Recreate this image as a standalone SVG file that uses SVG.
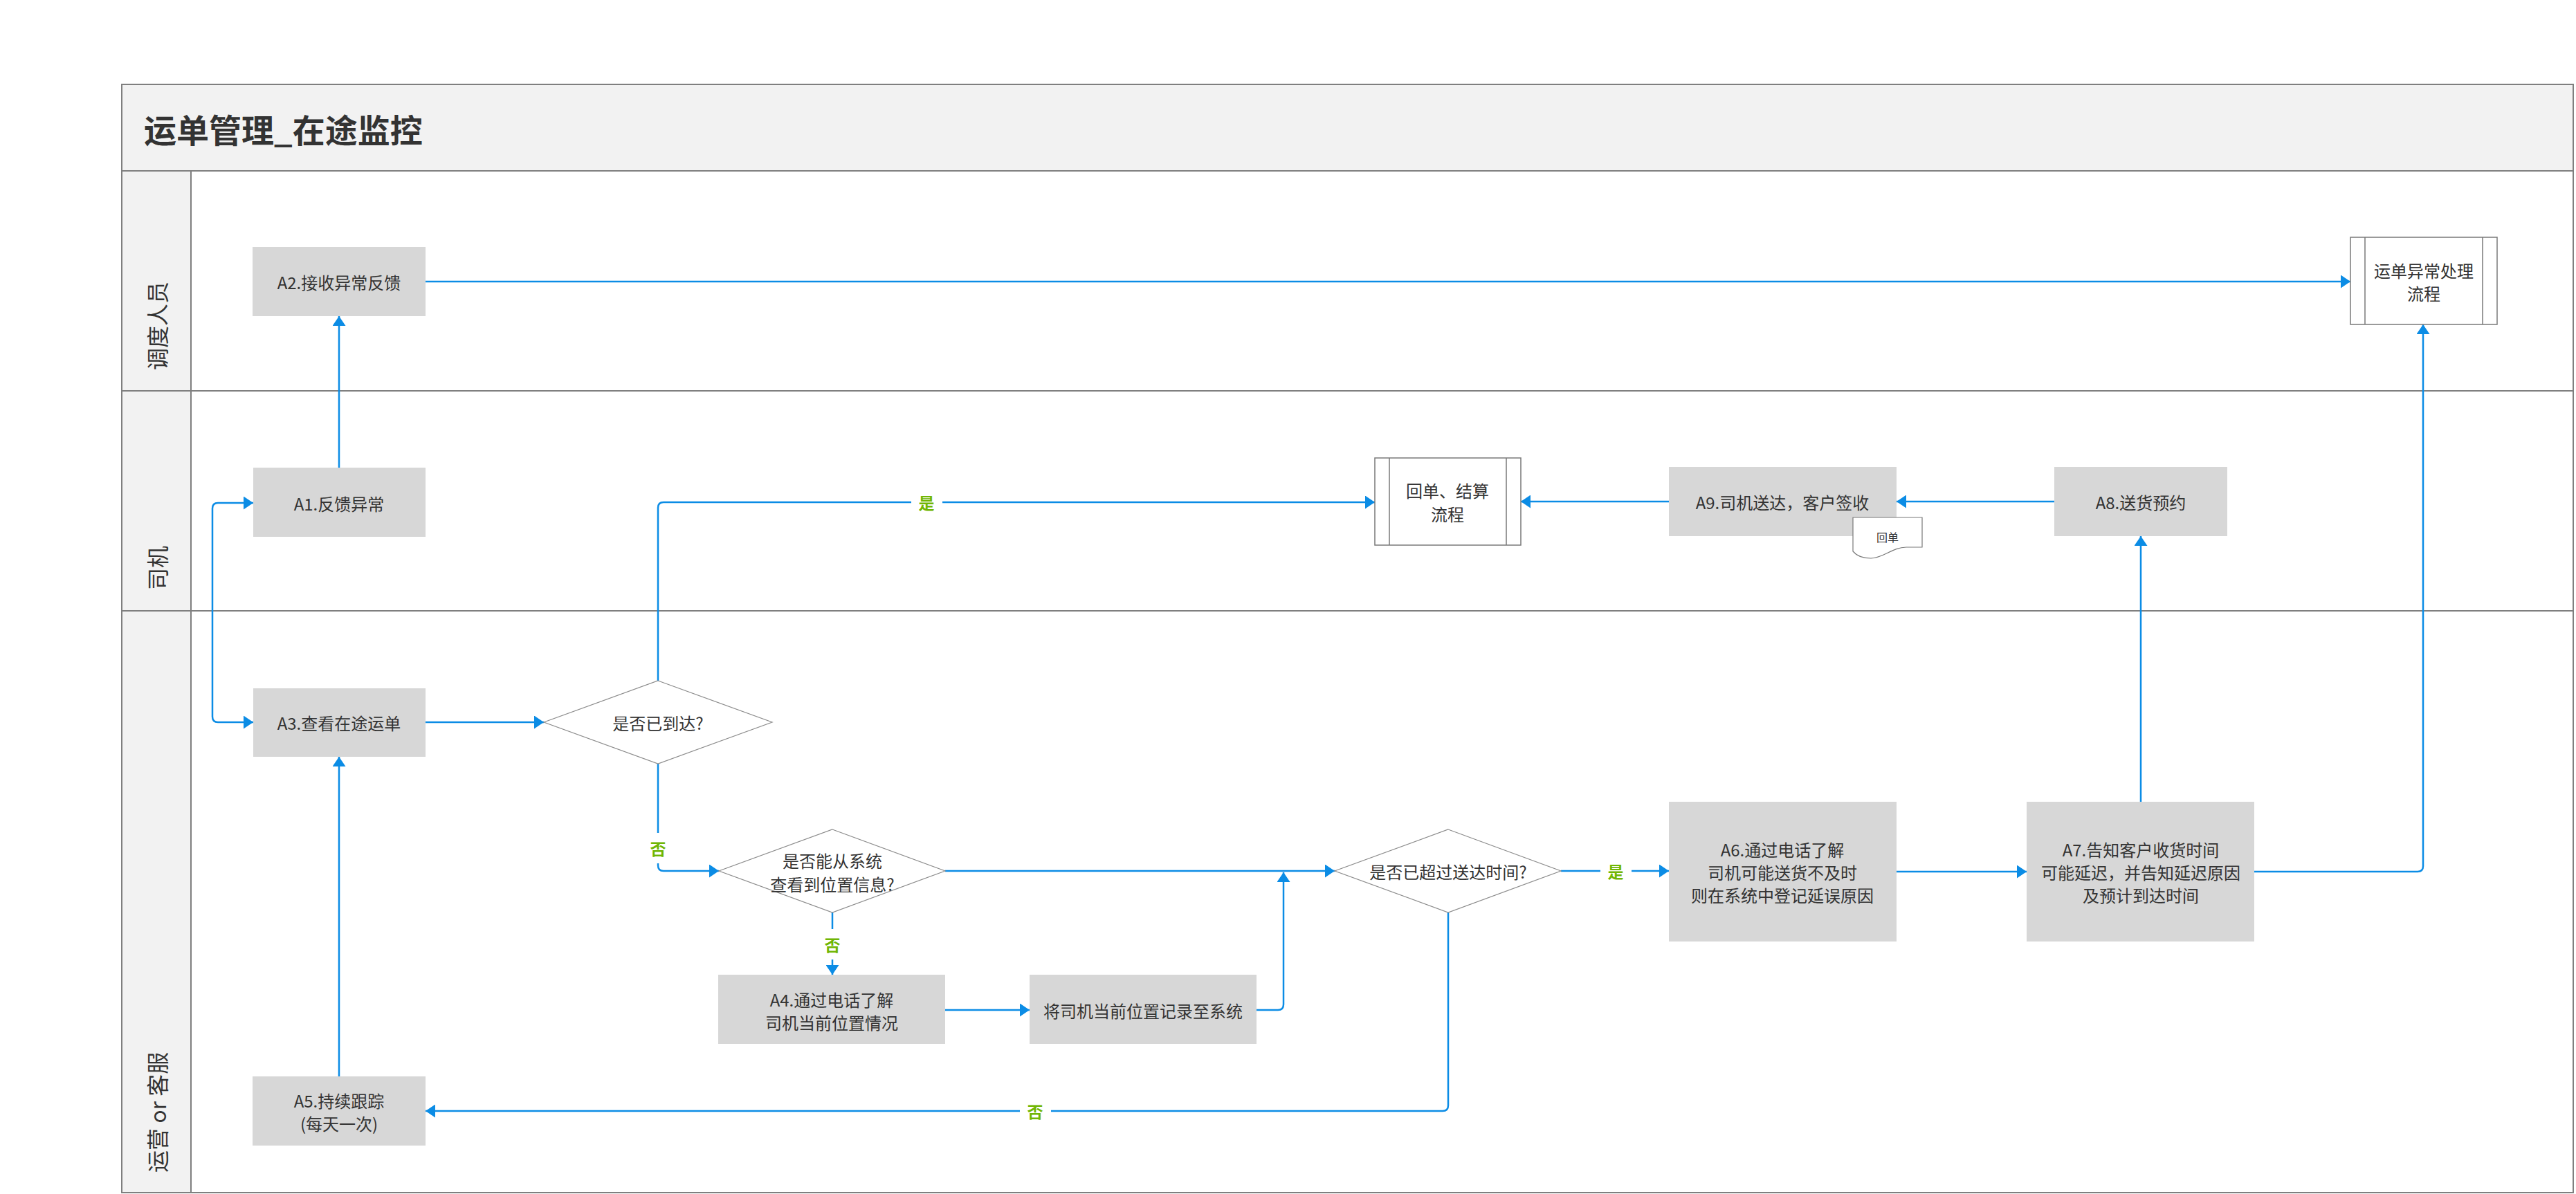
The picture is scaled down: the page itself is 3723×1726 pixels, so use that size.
<svg xmlns="http://www.w3.org/2000/svg" width="3723" height="1726" viewBox="0 0 3723 1726">
<defs>
<style>
text{font-family:"Noto Sans CJK SC","Liberation Sans",sans-serif;fill:#333333;}
.t{font-size:24px;text-anchor:middle;dominant-baseline:central;}
.lane{font-size:32px;dominant-baseline:central;}
.title{font-size:47px;font-weight:bold;dominant-baseline:central;}
.box{fill:#d7d7d7;stroke:none;}
.sub{fill:#ffffff;stroke:#797979;stroke-width:1.5;}
.dia{fill:#ffffff;stroke:#8c8c8c;stroke-width:1.2;}
.frame{fill:none;stroke:#7f7f7f;stroke-width:2;}
.c{fill:none;stroke:#0b8ce5;stroke-width:2.5;marker-end:url(#ah);}
.lblbg{fill:#ffffff;}
.lbl{font-size:23px;font-weight:bold;fill:#70b603;text-anchor:middle;dominant-baseline:central;}
</style>
<marker id="ah" markerUnits="userSpaceOnUse" markerWidth="14" markerHeight="19" refX="14" refY="9.5" orient="auto-start-reverse">
<path d="M0,0 L14,9.5 L0,19 Z" fill="#0b8ce5"/>
</marker>
</defs>
<rect width="3723" height="1726" fill="#ffffff"/>

<g id="pool">
<rect x="176" y="122" width="3543" height="125" fill="#f2f2f2"/>
<rect x="176" y="247" width="100" height="1477" fill="#f2f2f2"/>
<rect class="frame" x="176" y="122" width="3543" height="1602"/>
<line class="frame" x1="176" y1="247" x2="3719" y2="247"/>
<line class="frame" x1="176" y1="565" x2="3719" y2="565"/>
<line class="frame" x1="176" y1="883" x2="3719" y2="883"/>
<line class="frame" x1="276" y1="247" x2="276" y2="1724"/>
<text class="title" x="208" y="185">运单管理_在途监控</text>
<text class="lane" transform="rotate(-90 226 535)" x="226" y="535">调度人员</text>
<text class="lane" transform="rotate(-90 226 853)" x="226" y="853">司机</text>
<text class="lane" transform="rotate(-90 226 1695)" x="226" y="1695">运营 or 客服</text>
</g>

<g id="connectors">
<path class="c" d="M490,676 V457"/>
<path class="c" d="M615,407 H3397"/>
<path class="c" style="marker-start:url(#ah)" d="M366,727 H315 Q307,727 307,735 V1036 Q307,1044 315,1044 H366"/>
<path class="c" d="M615,1044 H786"/>
<path class="c" d="M951,984 V734 Q951,726 959,726 H1987"/>
<path class="c" d="M951,1104 V1251 Q951,1259 959,1259 H1039"/>
<path class="c" d="M1366,1259 H1929"/>
<path class="c" d="M1203,1319 V1409"/>
<path class="c" d="M1366,1460 H1488"/>
<path class="c" d="M1816,1460 H1847 Q1855,1460 1855,1452 V1261"/>
<path class="c" d="M2256,1259 H2412"/>
<path class="c" d="M2093,1319 V1598 Q2093,1606 2085,1606 H615"/>
<path class="c" d="M490,1556 V1094"/>
<path class="c" d="M2741,1260 H2929"/>
<path class="c" d="M3094,1159 V775"/>
<path class="c" d="M2969,725 H2741"/>
<path class="c" d="M2412,725 H2198"/>
<path class="c" d="M3258,1260 H3494 Q3502,1260 3502,1252 V469"/>
<rect class="lblbg" x="1317" y="711" width="45" height="30"/>
<text class="lbl" x="1339" y="726">是</text>
<rect class="lblbg" x="936" y="1204" width="30" height="44"/>
<text class="lbl" x="951" y="1226">否</text>
<rect class="lblbg" x="1188" y="1343" width="30" height="44"/>
<text class="lbl" x="1203" y="1365">否</text>
<rect class="lblbg" x="2313" y="1244" width="45" height="30"/>
<text class="lbl" x="2335" y="1259">是</text>
<rect class="lblbg" x="1474" y="1591" width="45" height="30"/>
<text class="lbl" x="1496" y="1606">否</text>
</g>

<g id="A2">
<rect class="box" x="365" y="357" width="250" height="100"/>
<text class="t" x="490" y="407">A2.接收异常反馈</text>
</g>
<g id="exception-process">
<rect class="sub" x="3397" y="343" width="212" height="126"/>
<line class="sub" x1="3418" y1="343" x2="3418" y2="469"/>
<line class="sub" x1="3588" y1="343" x2="3588" y2="469"/>
<text class="t" x="3503"><tspan x="3503" y="390">运单异常处理</tspan><tspan x="3503" y="423">流程</tspan></text>
</g>
<g id="A1">
<rect class="box" x="366" y="676" width="249" height="100"/>
<text class="t" x="490" y="727">A1.反馈异常</text>
</g>
<g id="settle-process">
<rect class="sub" x="1987" y="662" width="211" height="126"/>
<line class="sub" x1="2008" y1="662" x2="2008" y2="788"/>
<line class="sub" x1="2177" y1="662" x2="2177" y2="788"/>
<text class="t" x="2092"><tspan x="2092" y="708">回单、结算</tspan><tspan x="2092" y="742">流程</tspan></text>
</g>
<g id="A9">
<rect class="box" x="2412" y="675" width="329" height="100"/>
<text class="t" x="2576" y="725">A9.司机送达，客户签收</text>
</g>
<g id="receipt-doc">
<path d="M2678,748 H2778 V791 H2755 C2735,791 2722,807 2704,807 C2692,807 2683,803 2678,797 Z" fill="#ffffff" stroke="#797979" stroke-width="1.2"/>
<text x="2728" y="776" style="font-size:16px;text-anchor:middle;dominant-baseline:central;">回单</text>
</g>
<g id="A8">
<rect class="box" x="2969" y="675" width="250" height="100"/>
<text class="t" x="3094" y="725">A8.送货预约</text>
</g>
<g id="A3">
<rect class="box" x="366" y="995" width="249" height="99"/>
<text class="t" x="490" y="1044">A3.查看在途运单</text>
</g>
<g id="D1">
<polygon class="dia" points="951,984 1116,1044 951,1104 786,1044"/>
<text class="t" x="951" y="1044">是否已到达?</text>
</g>
<g id="D2">
<polygon class="dia" points="1203,1199 1366,1259 1203,1319 1039,1259"/>
<text class="t" x="1203"><tspan x="1203" y="1243">是否能从系统</tspan><tspan x="1203" y="1277">查看到位置信息?</tspan></text>
</g>
<g id="A4">
<rect class="box" x="1038" y="1409" width="328" height="100"/>
<text class="t" x="1202"><tspan x="1202" y="1444">A4.通过电话了解</tspan><tspan x="1202" y="1477">司机当前位置情况</tspan></text>
</g>
<g id="record">
<rect class="box" x="1488" y="1409" width="328" height="100"/>
<text class="t" x="1652" y="1460">将司机当前位置记录至系统</text>
</g>
<g id="D3">
<polygon class="dia" points="2093,1199 2256,1259 2093,1319 1929,1259"/>
<text class="t" x="2093" y="1259">是否已超过送达时间?</text>
</g>
<g id="A6">
<rect class="box" x="2412" y="1159" width="329" height="202"/>
<text class="t" x="2576"><tspan x="2576" y="1227">A6.通过电话了解</tspan><tspan x="2576" y="1260">司机可能送货不及时</tspan><tspan x="2576" y="1293">则在系统中登记延误原因</tspan></text>
</g>
<g id="A7">
<rect class="box" x="2929" y="1159" width="329" height="202"/>
<text class="t" x="3094"><tspan x="3094" y="1227">A7.告知客户收货时间</tspan><tspan x="3094" y="1260">可能延迟，并告知延迟原因</tspan><tspan x="3094" y="1293">及预计到达时间</tspan></text>
</g>
<g id="A5">
<rect class="box" x="365" y="1556" width="250" height="100"/>
<text class="t" x="490"><tspan x="490" y="1590">A5.持续跟踪</tspan><tspan x="490" y="1623">(每天一次)</tspan></text>
</g>
</svg>
